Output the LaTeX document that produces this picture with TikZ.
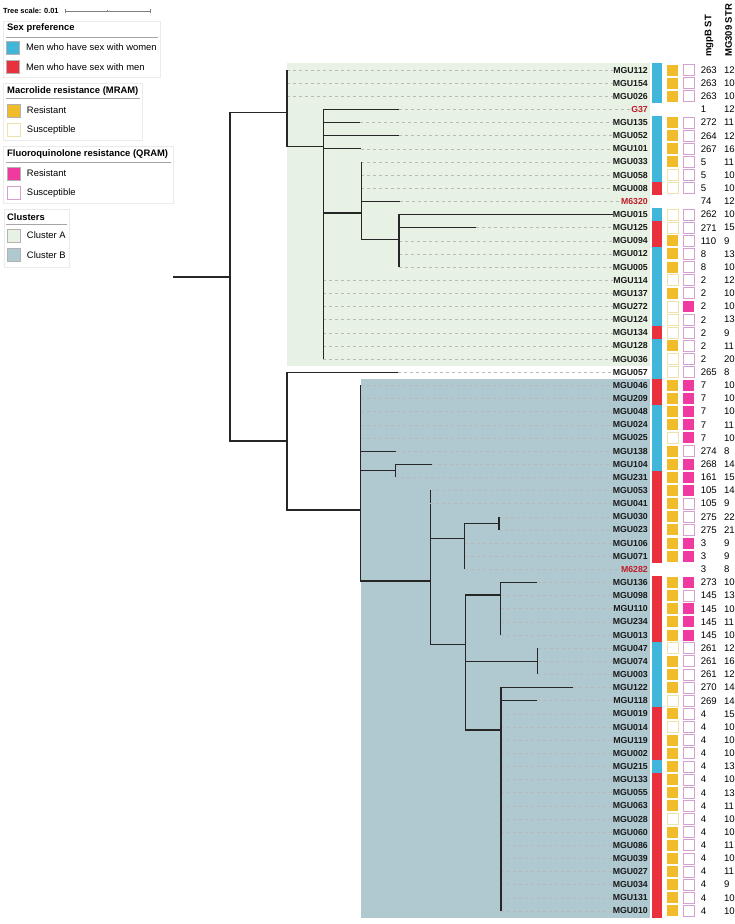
\documentclass[tikz,border=0pt]{standalone}
\usepackage{fontspec}
\setmainfont{Liberation Sans}
\usetikzlibrary{positioning}

\definecolor{msw}{RGB}{64,182,219}
\definecolor{msm}{RGB}{232,49,61}
\definecolor{mres}{RGB}{240,188,42}
\definecolor{msus}{RGB}{236,226,170}
\definecolor{qres}{RGB}{240,58,160}
\definecolor{qsus}{RGB}{214,160,206}
\definecolor{clA}{RGB}{232,242,228}
\definecolor{clB}{RGB}{176,201,209}
\definecolor{refred}{RGB}{190,30,40}

\tikzset{
  branch/.style={line width=1.1pt, black!85},
  guide/.style={gray!55, line width=0.5pt, dash pattern=on 3pt off 3pt},
  leaf/.style={anchor=east, inner sep=0pt, font=\fontsize{8.75}{10}\selectfont\bfseries},
  lk/.style={text=black!90}, lr/.style={text=refred},
  num/.style={anchor=west, inner sep=0pt, font=\fontsize{9.6}{11}\selectfont},
  head/.style={rotate=90, anchor=west, inner sep=0pt, font=\fontsize{9.5}{11}\selectfont\bfseries},
  sexcell/.style={minimum width=10pt, minimum height=13.2pt, inner sep=0pt},
  sexB/.style={fill=msw}, sexR/.style={fill=msm}, sexN/.style={},
  cell/.style={minimum width=11pt, minimum height=11pt, inner sep=0pt, line width=0.8pt},
  mR/.style={fill=mres}, mS/.style={fill=white, draw=msus}, mN/.style={},
  qR/.style={fill=qres}, qS/.style={fill=white, draw=qsus}, qN/.style={},
  keybox/.style={draw=black!8, fill=white, line width=0.6pt},
  keyhead/.style={anchor=west, inner sep=0pt, font=\fontsize{9.4}{11}\selectfont\bfseries},
  keyrule/.style={gray!70, line width=0.9pt},
  keysq/.style={minimum size=13pt, inner sep=0pt, draw=black!30, line width=0.6pt},
  keytext/.style={inner sep=0pt, font=\fontsize{9.4}{11}\selectfont},
}

\begin{document}
\begin{tikzpicture}[x=1pt, y=-1pt]
  \useasboundingbox (0,0) rectangle (735,924);

  % Clusters
  \fill[clA] (287,63.4) rectangle (650,365.7);
  \fill[clB] (360.5,378.6) rectangle (650,917.6);

  % Inner nodes of the tree
  \coordinate (root) at (173,277);
  \coordinate (R)  at (230,277);
  \coordinate (A0) at (287,112.7);
  \coordinate (A1) at (323.3,146.3);
  \coordinate (A2) at (361.3,213);
  \coordinate (A3) at (399,239.3);
  \coordinate (N1) at (287,441);
  \coordinate (B0) at (360.7,510);
  \coordinate (B1) at (395.3,470.7);
  \coordinate (B2) at (430.3,581);
  \coordinate (B3) at (464.7,538.7);
  \coordinate (B5) at (499,523.7);
  \coordinate (B4) at (465.3,644.7);
  \coordinate (B6) at (500.7,595);
  \coordinate (B7) at (537.7,661.4);
  \coordinate (B8) at (501,730);

  % Leaves: name/colour/sex/MRAM/QRAM/mgpB ST/MG309 STR/parent/branch length
  \foreach \nm/\col/\sx/\mr/\qr/\mg/\ms/\pa/\bl [count=\i] in {
      MGU112/lk/B/R/S/263/12/A0/0, MGU154/lk/B/R/S/263/10/A0/0,
      MGU026/lk/B/R/S/263/10/A0/0, G37/lr/N/N/N/1/12/A1/75.7,
      MGU135/lk/B/R/S/272/11/A1/37, MGU052/lk/B/R/S/264/12/A1/75.7,
      MGU101/lk/B/R/S/267/16/A1/37.7, MGU033/lk/B/R/S/5/11/A2/0,
      MGU058/lk/B/S/S/5/10/A2/0, MGU008/lk/R/S/S/5/10/A2/0,
      M6320/lr/N/N/N/74/12/A2/38.7, MGU015/lk/B/S/S/262/10/A3/0,
      MGU125/lk/R/S/S/271/15/A3/76.7, MGU094/lk/R/R/S/110/9/A3/0,
      MGU012/lk/B/R/S/8/13/A3/0, MGU005/lk/B/R/S/8/10/A3/0,
      MGU114/lk/B/S/S/2/12/A1/0, MGU137/lk/B/R/S/2/10/A1/0,
      MGU272/lk/B/S/R/2/10/A1/0, MGU124/lk/B/S/S/2/13/A1/0,
      MGU134/lk/R/S/S/2/9/A1/0, MGU128/lk/B/R/S/2/11/A1/0,
      MGU036/lk/B/S/S/2/20/A1/0, MGU057/lk/B/S/S/265/8/N1/110.7,
      MGU046/lk/R/R/R/7/10/B0/0, MGU209/lk/R/R/R/7/10/B0/0,
      MGU048/lk/B/R/R/7/10/B0/0, MGU024/lk/B/R/R/7/11/B0/0,
      MGU025/lk/B/S/R/7/10/B0/0, MGU138/lk/B/R/S/274/8/B0/35.3,
      MGU104/lk/B/R/R/268/14/B1/36.4, MGU231/lk/R/R/R/161/15/B1/0,
      MGU053/lk/R/R/R/105/14/B2/0, MGU041/lk/R/R/S/105/9/B2/0,
      MGU030/lk/R/R/S/275/22/B5/0, MGU023/lk/R/R/S/275/21/B5/0,
      MGU106/lk/R/R/R/3/9/B3/0, MGU071/lk/R/R/R/3/9/B3/0,
      M6282/lr/N/N/N/3/8/B3/0, MGU136/lk/R/R/R/273/10/B6/36,
      MGU098/lk/R/R/S/145/13/B6/0, MGU110/lk/R/R/R/145/10/B6/0,
      MGU234/lk/R/R/R/145/11/B6/0, MGU013/lk/R/R/R/145/10/B6/0,
      MGU047/lk/B/S/S/261/12/B7/0, MGU074/lk/B/R/S/261/16/B7/0,
      MGU003/lk/B/R/S/261/12/B7/0, MGU122/lk/B/R/S/270/14/B8/71.7,
      MGU118/lk/B/S/S/269/14/B8/35.7, MGU019/lk/R/R/S/4/15/B8/0,
      MGU014/lk/R/S/S/4/10/B8/0, MGU119/lk/R/R/S/4/10/B8/0,
      MGU002/lk/R/R/S/4/10/B8/0, MGU215/lk/B/R/S/4/13/B8/0,
      MGU133/lk/R/R/S/4/10/B8/0, MGU055/lk/R/R/S/4/13/B8/0,
      MGU063/lk/R/R/S/4/11/B8/0, MGU028/lk/R/S/S/4/10/B8/0,
      MGU060/lk/R/R/S/4/10/B8/0, MGU086/lk/R/R/S/4/11/B8/0,
      MGU039/lk/R/R/S/4/10/B8/0, MGU027/lk/R/R/S/4/11/B8/0,
      MGU034/lk/R/R/S/4/9/B8/0, MGU131/lk/R/R/S/4/10/B8/0,
      MGU010/lk/R/R/S/4/10/B8/0} {
    \pgfmathsetmacro\yy{70+(\i-1)*13.14}
    \node[leaf, \col] (\nm) at (648,\yy) {\nm};
    \path (\pa |- 0,\yy) ++(\bl,0) coordinate (t\i);
    \draw[guide] (t\i) -- (\nm.west);
    \draw[branch] (\pa) |- (t\i);
    \node[sexcell, sex\sx] (s\i) at (656.6,\yy) {};
    \node[cell, m\mr] (m\i) at (672.5,\yy) {};
    \node[cell, q\qr] (q\i) at (688.5,\yy) {};
    \node[num] (st\i) at (700.6,\yy) {\mg};
    \node[num] (str\i) at (723.8,\yy) {\ms};
  }

  % Lines
  \draw[branch] (A3) |- (MGU015.west);
  \draw[branch] (root) -- (R);
  \foreach \a/\b in {R/A0, R/N1, A0/A1, A1/A2, A2/A3, N1/B0, B0/B1, B0/B2,
                     B2/B3, B2/B4, B3/B5, B4/B6, B4/B7, B4/B8}
    \draw[branch] (\a) |- (\b);

  % Column heads
  \node[head] (sthead) at (709,57) {mgpB ST};
  \node[head] (strhead) at (728.5,57) {MG309 STR};

  % Tree scale
  \node[anchor=west, inner sep=0pt, font=\fontsize{7.4}{9}\selectfont\bfseries] (scaletext) at (3,11) {Tree scale: 0.01};
  \coordinate (sb0) at (65,11);
  \coordinate (sb1) at (150.5,11);
  \draw[gray, line width=0.6pt] (sb0) -- (sb1);
  \draw[gray, line width=0.6pt] (65,9) -- (65,13) (150.5,9) -- (150.5,13) (107.7,10) -- (107.7,12);

  % Legend
  \draw[keybox] (3,21) rectangle (160,77);
  \node[keyhead] (sexhead) at (7,28.5) {Sex preference};
  \draw[keyrule] (6,37) -- (158,37);
  \node[keysq, fill=msw] (mswkey) at (12.5,47.5) {};
  \node[keytext, right=6.5pt of mswkey] (mswtext) {Men who have sex with women};
  \node[keysq, fill=msm, below=6pt of mswkey] (msmkey) {};
  \node[keytext, right=6.5pt of msmkey] (msmtext) {Men who have sex with men};

  \draw[keybox] (3,83) rectangle (142,140);
  \node[keyhead] (mramhead) at (7,91) {Macrolide resistance (MRAM)};
  \draw[keyrule] (6,98.5) -- (140,98.5);
  \node[keysq, fill=mres] (mreskey) at (13.5,110.5) {};
  \node[keytext, right=6.5pt of mreskey] (mrestext) {Resistant};
  \node[keysq, fill=white, draw=msus, below=6pt of mreskey] (msuskey) {};
  \node[keytext, right=6.5pt of msuskey] (msustext) {Susceptible};

  \draw[keybox] (3,146) rectangle (173,203);
  \node[keyhead] (qramhead) at (7,154.5) {Fluoroquinolone resistance (QRAM)};
  \draw[keyrule] (6,162.5) -- (171,162.5);
  \node[keysq, fill=qres] (qreskey) at (13.5,173.5) {};
  \node[keytext, right=6.5pt of qreskey] (qrestext) {Resistant};
  \node[keysq, fill=white, draw=qsus, below=6pt of qreskey] (qsuskey) {};
  \node[keytext, right=6.5pt of qsuskey] (qsustext) {Susceptible};

  \draw[keybox] (4,209) rectangle (69,267);
  \node[keyhead] (clhead) at (7,217) {Clusters};
  \draw[keyrule] (6,224.5) -- (67,224.5);
  \node[keysq, fill=clA] (clAkey) at (14,235.5) {};
  \node[keytext, right=6pt of clAkey] (clAtext) {Cluster A};
  \node[keysq, fill=clB, below=6pt of clAkey] (clBkey) {};
  \node[keytext, right=6pt of clBkey] (clBtext) {Cluster B};
\end{tikzpicture}
\end{document}
